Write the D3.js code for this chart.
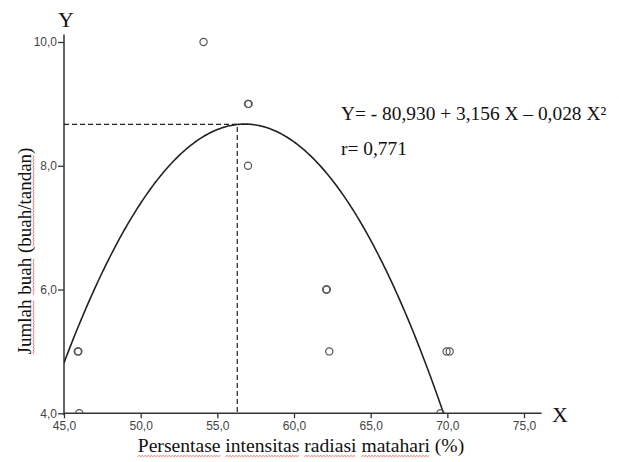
<!DOCTYPE html>
<html>
<head>
<meta charset="utf-8">
<script src="https://cdn.jsdelivr.net/npm/d3@7"></script>
<style>
    body { margin: 0; background: #fff; }
    svg { display: block; }
</style>
</head>
<body>
<svg id="chart" width="619" height="462"></svg>
<script>
// titik pengamatan
const radiasi = [54.1, 57.0, 57.04, 57.0, 45.9, 45.94, 46.0, 62.1, 62.14, 62.3, 69.95, 70.15, 69.55];
const jumlahBuah = [10.0, 9.0, 9.0, 8.0, 5.0, 5.0, 4.0, 6.0, 6.0, 5.0, 5.0, 5.0, 4.0];

const xTicks = [45, 50, 55, 60, 65, 70, 75];
const yTicks = [4, 6, 8, 10];

// Y = a + bX + cX^2
const koefisien = [-80.930, 3.156, -0.02779];
const puncakX = 56.3;
const puncakY = 8.67;

const persamaan = "Y= - 80,930 + 3,156 X \u2013 0,028 X\u00b2";
const korelasi = "r= 0,771";
const judulX = "Persentase intensitas radiasi matahari (%)";
const judulY = "Jumlah buah (buah/tandan)";

const svg = d3.select("#chart");
const fmt = d => d.toFixed(1).replace(".", ",");

const x = d3.scaleLinear().domain([45, 75]).range([64, 524]);
const y = d3.scaleLinear().domain([4, 10]).range([413.3, 42]);

const axisColor = "#333";

svg.append("defs").append("clipPath")
    .attr("id", "plot")
    .append("rect")
    .attr("x", x(45))
    .attr("y", 30)
    .attr("width", x(76.2) - x(45))
    .attr("height", y(4) - 30);

// axes
const gx = svg.append("g")
    .attr("transform", `translate(0,${y(4)})`)
    .call(d3.axisBottom(x).tickValues(xTicks).tickFormat(fmt).tickSize(5).tickSizeOuter(0));
const gy = svg.append("g")
    .attr("transform", `translate(${x(45)},0)`)
    .call(d3.axisLeft(y).tickValues(yTicks).tickFormat(fmt).tickSize(6).tickSizeOuter(0));

[gx, gy].forEach(g => {
    g.select(".domain").remove();
    g.selectAll("line").attr("stroke", axisColor).attr("stroke-width", 1.3);
    g.selectAll("text")
        .attr("fill", "#444")
        .attr("font-family", "Liberation Sans, Arial, sans-serif")
        .attr("font-size", "12px");
});
gx.selectAll("text").attr("dy", "0.95em").attr("y", 5);
gy.selectAll("text").attr("x", -7);

svg.append("line")
    .attr("x1", x(45)).attr("x2", x(76.15))
    .attr("y1", y(4)).attr("y2", y(4))
    .attr("stroke", axisColor).attr("stroke-width", 1.5);
svg.append("line")
    .attr("x1", x(45)).attr("x2", x(45))
    .attr("y1", y(10.12)).attr("y2", y(3.97))
    .attr("stroke", axisColor).attr("stroke-width", 1.5);

// dashed guide to the peak
svg.append("path")
    .attr("d", `M${x(45)},${y(puncakY)}H${x(puncakX)}V${y(4)}`)
    .attr("fill", "none")
    .attr("stroke", "#222")
    .attr("stroke-width", 1.2)
    .attr("stroke-dasharray", "5,3");

// fitted curve
const fungsi = v => koefisien[0] + koefisien[1] * v + koefisien[2] * v * v;
const kurva = d3.range(45, 69.85, 0.1).map(v => [v, fungsi(v)]);
svg.append("path")
    .datum(kurva)
    .attr("clip-path", "url(#plot)")
    .attr("d", d3.line().x(d => x(d[0])).y(d => y(d[1])))
    .attr("fill", "none")
    .attr("stroke", "#222")
    .attr("stroke-width", 1.6);

// points
svg.append("g")
    .attr("clip-path", "url(#plot)")
    .selectAll("circle")
    .data(radiasi.map((v, i) => [v, jumlahBuah[i]]))
    .join("circle")
    .attr("cx", d => x(d[0]))
    .attr("cy", d => y(d[1]))
    .attr("r", 3.6)
    .attr("fill", "none")
    .attr("stroke", "#555")
    .attr("stroke-width", 1.2);

// text
const serif = "Liberation Serif, Times New Roman, serif";
svg.append("text").text("Y")
    .attr("x", 66).attr("y", 27)
    .attr("text-anchor", "middle")
    .attr("font-family", serif).attr("font-size", "22px").attr("fill", "#111");
svg.append("text").text("X")
    .attr("x", 560).attr("y", 421.5)
    .attr("text-anchor", "middle")
    .attr("font-family", serif).attr("font-size", "22px").attr("fill", "#111");

svg.append("text").text(persamaan)
    .attr("x", 341).attr("y", 120)
    .attr("font-family", serif).attr("font-size", "19.4px").attr("fill", "#111");
svg.append("text").text(korelasi)
    .attr("x", 341).attr("y", 155)
    .attr("font-family", serif).attr("font-size", "19.4px").attr("fill", "#111");

const tx = svg.append("text").text(judulX)
    .attr("x", 301).attr("y", 452)
    .attr("text-anchor", "middle")
    .attr("font-family", serif).attr("font-size", "19.6px").attr("fill", "#111");
const ty = svg.append("text").text(judulY)
    .attr("transform", "translate(31,251) rotate(-90)")
    .attr("text-anchor", "middle")
    .attr("font-family", serif).attr("font-size", "19px").attr("fill", "#111");

// red spell-check squiggles under words
function squiggle(g, x0, x1, yy) {
    let d = `M${x0},${yy}`;
    let up = true;
    for (let p = x0 + 1.5; p <= x1; p += 1.5) {
        d += `L${p},${yy + (up ? -1 : 0)}`;
        up = !up;
    }
    g.append("path").attr("d", d)
        .attr("fill", "none").attr("stroke", "#e2574c").attr("stroke-width", 0.8);
};
function underlineWords(textSel, words, yy, transform) {
    const node = textSel.node();
    const full = node.textContent;
    const g = svg.append("g").attr("transform", transform || null);
    words.forEach(w => {
        const i = full.indexOf(w);
        const start = node.getStartPositionOfChar(i).x;
        const end = node.getEndPositionOfChar(i + w.length - 1).x;
        squiggle(g, start, end, yy);
    });
};
underlineWords(tx, ["Persentase", "intensitas", "radiasi", "matahari"], 456.5);
underlineWords(ty, ["Jumlah", "buah", "buah/tandan"], 3, "translate(31,251) rotate(-90)");
</script>
</body>
</html>
